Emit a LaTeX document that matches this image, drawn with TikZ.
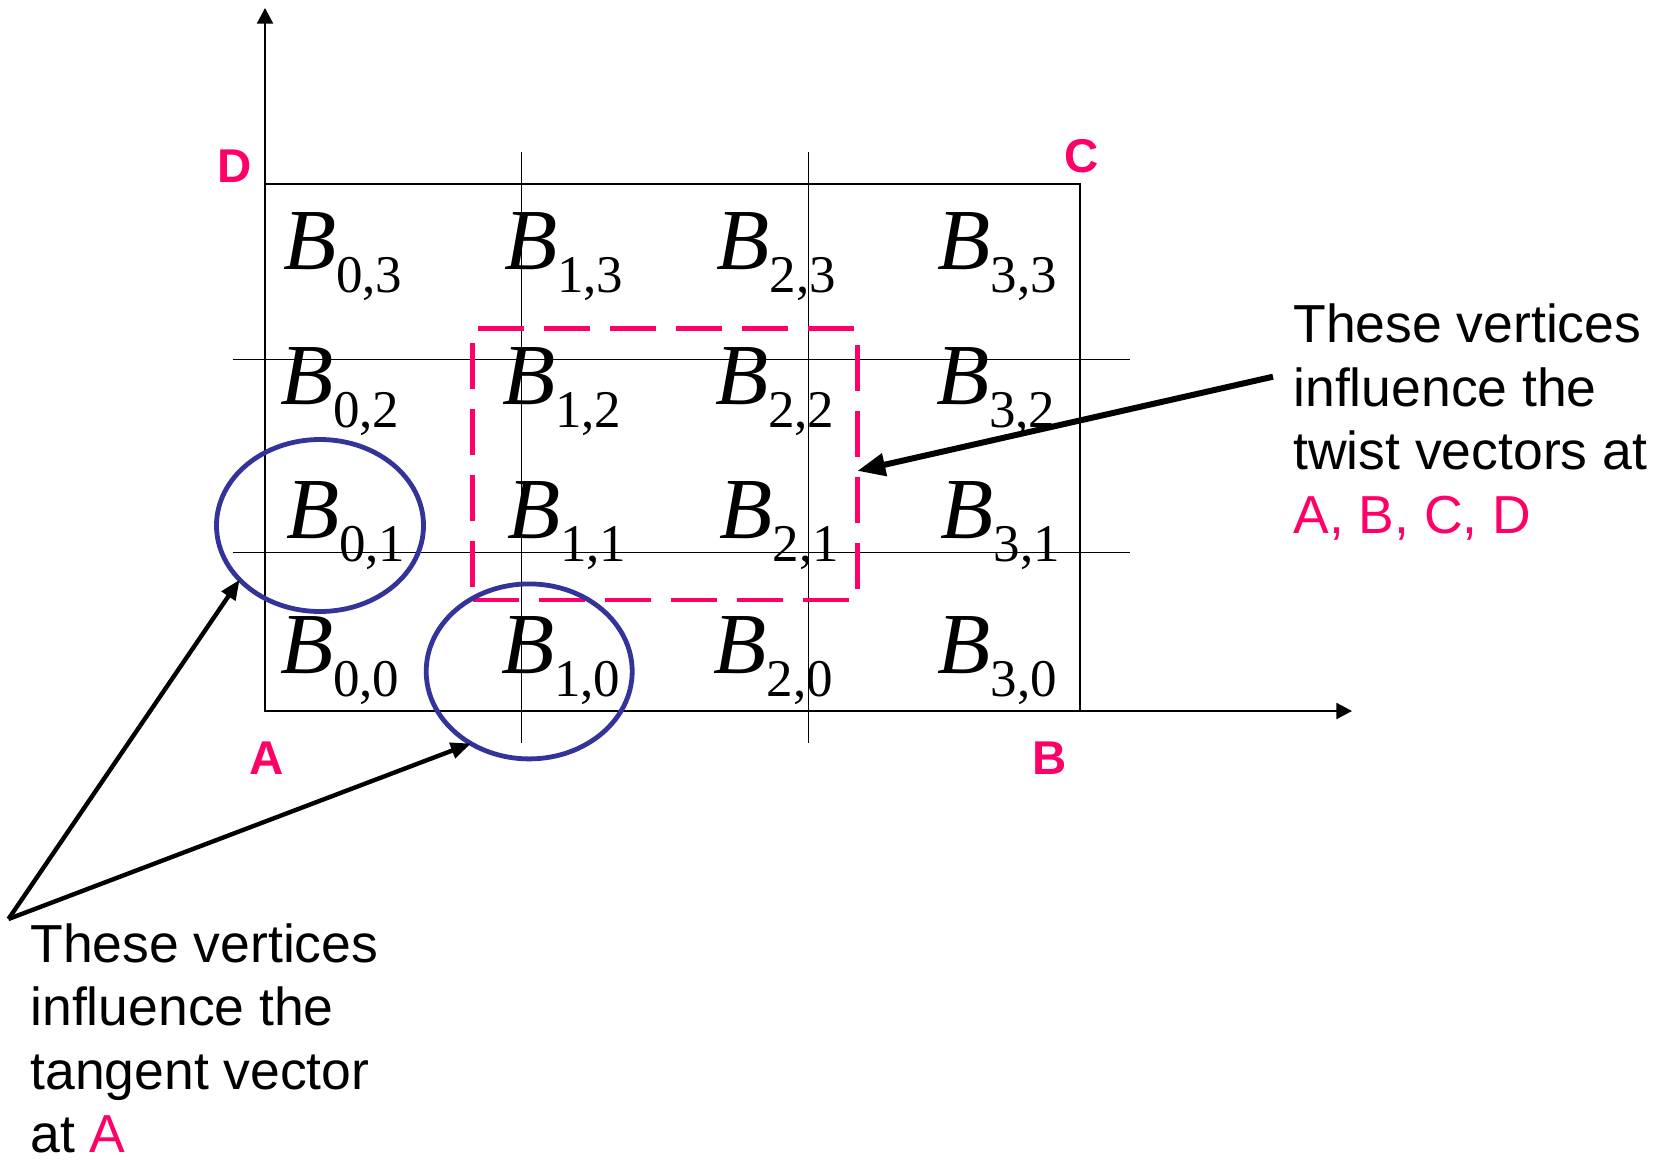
\documentclass[tikz,border=0pt]{standalone}
\usepackage{fontspec}
\setmainfont{Liberation Sans}
\newfontfamily\serifB{Liberation Serif}
\usetikzlibrary{arrows.meta,shapes.geometric}
\definecolor{hot}{HTML}{FF0066}
\definecolor{navy}{HTML}{333399}
\newcommand{\Bv}[2]{{\serifB\fontsize{43.5pt}{43.5pt}\selectfont\itshape B}\raisebox{-11.5pt}{\serifB\fontsize{26.5pt}{26.5pt}\selectfont #1,#2}}
\tikzset{
  bl/.style={anchor=base west,inner sep=0pt,outer sep=0pt},
  corner/.style={anchor=base,inner sep=0pt,text=hot,font=\fontsize{23.7pt}{23.7pt}\selectfont\bfseries},
  note/.style={anchor=north west,inner sep=0pt,align=left,font=\fontsize{26.75pt}{31.75pt}\selectfont},
  axis/.style={line width=1pt,-{Triangle[length=7.8pt,width=8pt]}},
  gridline/.style={line width=0.75pt},
  ring/.style={ellipse,draw=navy,line width=2.4pt,inner sep=0pt,outer sep=0pt},
  twistbox/.style={rectangle,draw=hot,line width=2.4pt,dash pattern=on 23pt off 10pt,inner sep=0pt,outer sep=0pt},
  bigarrow/.style={line width=3pt,-{Triangle[length=14pt,width=11pt]}},
  thinarrow/.style={line width=2.2pt,-{Triangle[length=10pt,width=8pt]}}
}
\begin{document}
\begin{tikzpicture}[x=0.5pt,y=-0.5pt]
\useasboundingbox (0,0) rectangle (1663,1163);
% axes
\coordinate (O) at (265,711);
\coordinate (Ytip) at (265,8);
\coordinate (Xtip) at (1352,711);
\draw[axis] (O) -- (Ytip);
\draw[axis] (O) -- (Xtip);
% outer rectangle
\coordinate (Rtr) at (1080,183.5);
\draw[line width=1pt] (O) rectangle (Rtr);
% grid lines
\coordinate (v1a) at (521.5,151.7); \coordinate (v1b) at (521.5,743);
\coordinate (v2a) at (808.5,151.7); \coordinate (v2b) at (808.5,743);
\coordinate (h1a) at (232.7,359.3); \coordinate (h1b) at (1129.5,359.3);
\coordinate (h2a) at (232.7,552.3); \coordinate (h2b) at (1129.5,552.3);
\draw[gridline] (v1a) -- (v1b);
\draw[gridline] (v2a) -- (v2b);
\draw[gridline] (h1a) -- (h1b);
\draw[gridline] (h2a) -- (h2b);
% corner labels
\node[corner] (D) at (235,182.7) {D};
\node[corner] (C) at (1082,172.5) {C};
\node[corner] (A) at (267,774) {A};
\node[corner] (B) at (1050,774) {B};
% control vertices
\node[bl] (b03) at (283,269.3) {\Bv{0}{3}};
\node[bl] (b13) at (504,269.3) {\Bv{1}{3}};
\node[bl] (b23) at (716.6,269.3) {\Bv{2}{3}};
\node[bl] (b33) at (937.6,269.3) {\Bv{3}{3}};
\node[bl] (b02) at (280,404.3) {\Bv{0}{2}};
\node[bl] (b12) at (502,404.3) {\Bv{1}{2}};
\node[bl] (b22) at (715,404.3) {\Bv{2}{2}};
\node[bl] (b32) at (936,404.3) {\Bv{3}{2}};
\node[bl] (b01) at (286,538.3) {\Bv{0}{1}};
\node[bl] (b11) at (507,538.3) {\Bv{1}{1}};
\node[bl] (b21) at (719.5,538.3) {\Bv{2}{1}};
\node[bl] (b31) at (940.5,538.3) {\Bv{3}{1}};
\node[bl] (b00) at (280,673.3) {\Bv{0}{0}};
\node[bl] (b10) at (501,673.3) {\Bv{1}{0}};
\node[bl] (b20) at (713.8,673.3) {\Bv{2}{0}};
\node[bl] (b30) at (937.6,673.3) {\Bv{3}{0}};
% dashed twist region
\node[twistbox,minimum width=192.3pt,minimum height=135.85pt] (tw) at (665,464.2) {};
% ellipses
\node[ring,minimum width=103.5pt,minimum height=86pt] (e1) at (320,525.5) {};
\node[ring,minimum width=103pt,minimum height=87.5pt] (e2) at (529.2,671.4) {};
% notes
\node[note] (twnote) at (1293,303.4) {These vertices\\influence the\\twist vectors at\\\textcolor{hot}{A, B, C, D}};
\node[note] (tgnote) at (30,923) {These vertices\\influence the\\tangent vector\\at \textcolor{hot}{A}};
% arrows
\coordinate (twstart) at (1273,376.7);
\coordinate (V) at (8.5,919);
\draw[bigarrow] (twstart) -- (tw.-2);
\draw[thinarrow] (V) -- (e1.214);
\draw[thinarrow] (V) -- (e2.231);
\end{tikzpicture}
\end{document}
